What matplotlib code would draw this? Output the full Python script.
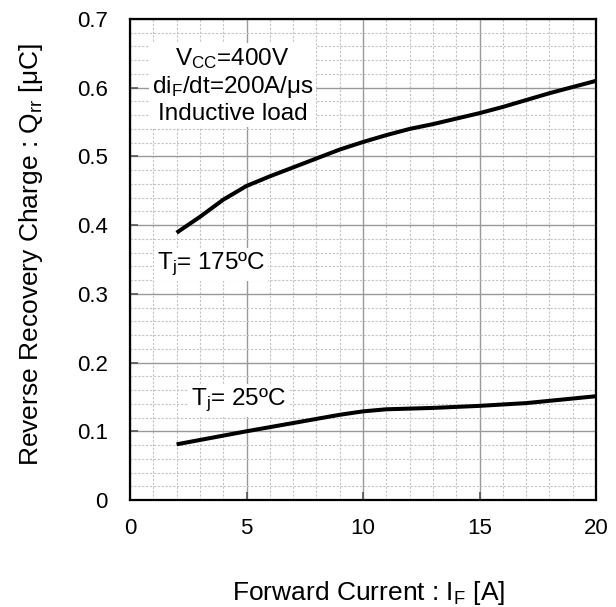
import matplotlib
matplotlib.use('Agg')
import matplotlib.pyplot as plt
from matplotlib.ticker import MultipleLocator

plt.rcParams['font.family'] = ['Liberation Sans', 'DejaVu Sans']
plt.rcParams['mathtext.fontset'] = 'custom'
plt.rcParams['mathtext.rm'] = 'Liberation Sans'
plt.rcParams['mathtext.it'] = 'Liberation Sans:italic'

# Tj = 175 C
if_175 = [2, 3, 4, 5, 6, 7, 8, 9, 10, 11, 12, 13, 14, 15, 16, 17, 18, 19, 20]
qrr_175 = [0.389, 0.412, 0.437, 0.457, 0.471, 0.484, 0.497, 0.510, 0.521, 0.531,
           0.540, 0.547, 0.555, 0.563, 0.572, 0.582, 0.592, 0.601, 0.610]

# Tj = 25 C
if_25 = [2, 5, 6, 7, 8, 9, 10, 11, 13, 15, 17, 20]
qrr_25 = [0.081, 0.100, 0.106, 0.112, 0.118, 0.124, 0.129, 0.132, 0.134, 0.137,
          0.141, 0.151]

fig = plt.figure(figsize=(6.16, 6.07), dpi=100)
ax = fig.add_axes([130 / 616, 1 - 500 / 607, 466 / 616, 481 / 607])

ax.plot(if_175, qrr_175, color='black', lw=2.9, solid_capstyle='butt', zorder=3)
ax.plot(if_25, qrr_25, color='black', lw=2.9, solid_capstyle='butt', zorder=3)

ax.set_xlim(0, 20)
ax.set_ylim(0, 0.7)
ax.xaxis.set_major_locator(MultipleLocator(5))
ax.xaxis.set_minor_locator(MultipleLocator(1))
ax.yaxis.set_minor_locator(MultipleLocator(0.02))
ax.set_yticks([0, 0.1, 0.2, 0.3, 0.4, 0.5, 0.6, 0.7])
ax.set_yticklabels(['0', '0.1', '0.2', '0.3', '0.4', '0.5', '0.6', '0.7'])

ax.grid(which='major', color='#999999', lw=1.0, ls='-', zorder=0)
ax.grid(which='minor', color='#c4c4c4', lw=0.8, ls=(0, (2, 1.5)), zorder=0)
ax.set_axisbelow(True)

ax.tick_params(which='major', direction='in', length=6, width=1.2, color='#555555',
               labelsize=16)
ax.tick_params(axis='y', which='major', pad=16)
ax.tick_params(axis='x', which='major', pad=13)
ax.tick_params(which='minor', length=0)

for s in ax.spines.values():
    s.set_linewidth(1.6)
    s.set_color('black')

ax.set_xlabel('Forward Current : I$_{\\mathrm{F}}$ [A]', fontsize=19)
ax.set_ylabel('Reverse Recovery Charge : Q$_{\\mathrm{rr}}$ [μC]', fontsize=19)
ax.xaxis.label.set_va('center')
ax.yaxis.label.set_va('center')
ax.xaxis.set_label_coords(0.513, -0.193)
ax.yaxis.set_label_coords(-0.213, 0.51)

box = dict(facecolor='white', edgecolor='none', pad=2)
ax.text(4.4, 0.603, 'V$_{\\mathrm{CC}}$=400V\ndi$_{\\mathrm{F}}$/dt=200A/μs\nInductive load',
        ha='center', va='center', fontsize=17.5, linespacing=1.15, bbox=box, zorder=2)
ax.text(1.15, 0.343, 'T$_{\\mathrm{j}}$= 175ºC', ha='left', va='center', fontsize=17.5,
        bbox=box, zorder=2)
ax.text(2.62, 0.145, 'T$_{\\mathrm{j}}$= 25ºC', ha='left', va='center', fontsize=17.5,
        bbox=box, zorder=2)

fig.savefig('out.png', dpi=100)
